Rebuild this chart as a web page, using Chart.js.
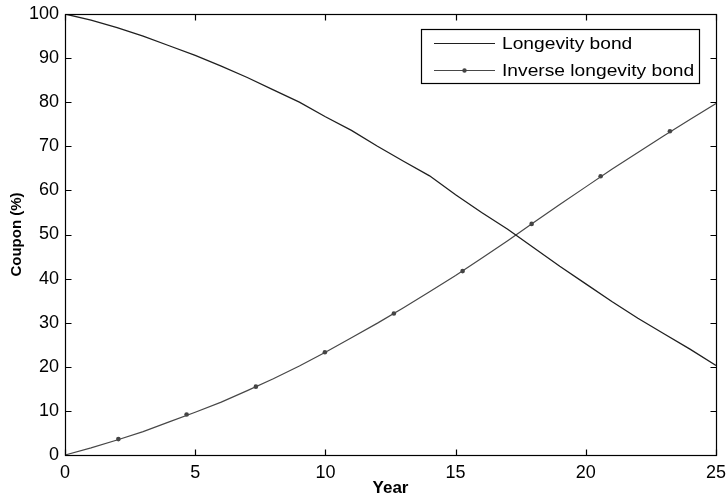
<!DOCTYPE html>
<html>
<head>
<meta charset="utf-8">
<script src="https://cdn.jsdelivr.net/npm/chart.js@4/dist/chart.umd.min.js"></script>
<style>
  html, body { margin: 0; padding: 0; background: #fff; }
  #c { display: block; }
</style>
</head>
<body>
<canvas id="c" width="726" height="499"></canvas>
<script>
// ---- data ----
const years = [0,1,2,3,4,5,6,7,8,9,10,11,12,13,14,15,16,17,18,19,20,21,22,23,24,25];
const longevityBond = [100,98.6,96.9,95.0,92.8,90.6,88.2,85.6,82.8,80.0,76.7,73.6,70.0,66.6,63.3,59.0,55.0,51.2,47.0,42.8,38.8,34.8,31.0,27.5,24.0,20.3];
const inverseBond = [0,1.6,3.4,5.3,7.5,9.7,12.0,14.6,17.3,20.2,23.3,26.6,29.9,33.4,37.0,40.7,44.6,48.6,52.7,56.8,60.8,64.8,68.6,72.4,76.1,79.7];
const markerYears = [2.05,4.67,7.33,9.98,12.63,15.27,17.92,20.57,23.23];
const markerValues = [3.6,9.2,15.5,23.3,32.1,41.7,52.4,63.2,73.4];
const xTicks = [0,5,10,15,20,25];
const yTicks = [0,10,20,30,40,50,60,70,80,90,100];
const seriesNames = ['Longevity bond', 'Inverse longevity bond'];
const xTitle = 'Year';
const yTitle = 'Coupon (%)';

const toXY = (xs, ys) => xs.map((x, i) => ({ x: x, y: ys[i] }));

const colLong = '#1f1f1f';
const colInv = '#474747';

const boxPlugin = {
  id: 'matlabBox',
  afterDatasetsDraw(chart) {
    const { ctx, chartArea, scales } = chart;
    const l = Math.round(chartArea.left) + 0.5, r = Math.round(chartArea.right) + 0.5;
    const t = Math.round(chartArea.top) + 0.5, b = Math.round(chartArea.bottom) + 0.5;
    ctx.save();
    ctx.strokeStyle = '#000';
    ctx.lineWidth = 1.2;
    ctx.strokeRect(l, t, r - l, b - t);
    const tl = 6;
    ctx.beginPath();
    scales.x.ticks.forEach(tk => {
      const px = Math.round(scales.x.getPixelForValue(tk.value)) + 0.5;
      ctx.moveTo(px, b); ctx.lineTo(px, b - tl);
      ctx.moveTo(px, t); ctx.lineTo(px, t + tl);
    });
    scales.y.ticks.forEach(tk => {
      const py = Math.round(scales.y.getPixelForValue(tk.value)) + 0.5;
      ctx.moveTo(l, py); ctx.lineTo(l + tl, py);
      ctx.moveTo(r, py); ctx.lineTo(r - tl, py);
    });
    ctx.stroke();
    ctx.restore();
  },
  afterDraw(chart) {
    const { ctx } = chart;
    const bx = 421.5, by = 29.5, bw = 278, bh = 54;
    ctx.save();
    ctx.fillStyle = '#fff';
    ctx.fillRect(bx, by, bw, bh);
    ctx.strokeStyle = '#000';
    ctx.lineWidth = 1.2;
    ctx.strokeRect(bx, by, bw, bh);
    const rows = [43, 70];
    const cols = [colLong, colInv];
    rows.forEach((ry, i) => {
      ctx.strokeStyle = cols[i];
      ctx.lineWidth = 1.1;
      ctx.beginPath();
      ctx.moveTo(434, ry + 0.5); ctx.lineTo(495, ry + 0.5);
      ctx.stroke();
      if (i === 1) {
        ctx.fillStyle = '#444';
        ctx.beginPath();
        ctx.arc(464.5, ry + 0.5, 2.2, 0, Math.PI * 2);
        ctx.fill();
      }
      ctx.save();
      ctx.translate(502, ry + 1);
      ctx.scale(1.13, 1);
      ctx.fillStyle = '#000';
      ctx.font = '17px "Liberation Sans", Arial, sans-serif';
      ctx.textBaseline = 'middle';
      ctx.textAlign = 'left';
      ctx.fillText(seriesNames[i], 0, 0);
      ctx.restore();
    });
    ctx.restore();
  }
};

new Chart(document.getElementById('c'), {
  type: 'line',
  data: {
    datasets: [
      { label: seriesNames[0], data: toXY(years, longevityBond), borderColor: colLong, borderWidth: 1.3, pointRadius: 0, tension: 0, fill: false },
      { label: seriesNames[1], data: toXY(years, inverseBond), borderColor: colInv, borderWidth: 1.2, pointRadius: 0, tension: 0, fill: false },
      { label: 'markers', data: toXY(markerYears, markerValues), showLine: false, pointRadius: 2.3, pointBackgroundColor: '#444', pointBorderColor: '#444', pointBorderWidth: 0 }
    ]
  },
  options: {
    responsive: false,
    animation: false,
    layout: { padding: { left: 0, right: 10, top: 14, bottom: 0 } },
    plugins: { legend: { display: false }, tooltip: { enabled: false } },
    scales: {
      x: {
        type: 'linear', min: 0, max: 25,
        afterBuildTicks(s) { s.ticks = xTicks.map(v => ({ value: v })); },
        afterFit(s) { s.height = 44; s.paddingLeft = 0; s.paddingRight = 0; },
        grid: { display: false, drawTicks: false },
        border: { display: false },
        ticks: { color: '#000', padding: 7, maxRotation: 0, autoSkip: false, font: { family: '"Liberation Sans", Arial, sans-serif', size: 18 } },
        title: { display: true, text: xTitle, color: '#000', padding: { top: 0, bottom: 0 }, font: { family: '"Liberation Sans", Arial, sans-serif', size: 17, weight: 'bold' } }
      },
      y: {
        min: 0, max: 100,
        afterBuildTicks(s) { s.ticks = yTicks.map(v => ({ value: v })); },
        afterFit(s) { s.width = 65; s.paddingTop = 0; s.paddingBottom = 0; },
        grid: { display: false, drawTicks: false },
        border: { display: false },
        ticks: { color: '#000', padding: 6, autoSkip: false, font: { family: '"Liberation Sans", Arial, sans-serif', size: 18 } },
        title: { display: true, text: yTitle, color: '#000', padding: { top: 8, bottom: 0 }, font: { family: '"Liberation Sans", Arial, sans-serif', size: 15, weight: 'bold' } }
      }
    }
  },
  plugins: [boxPlugin]
});
</script>
</body>
</html>
